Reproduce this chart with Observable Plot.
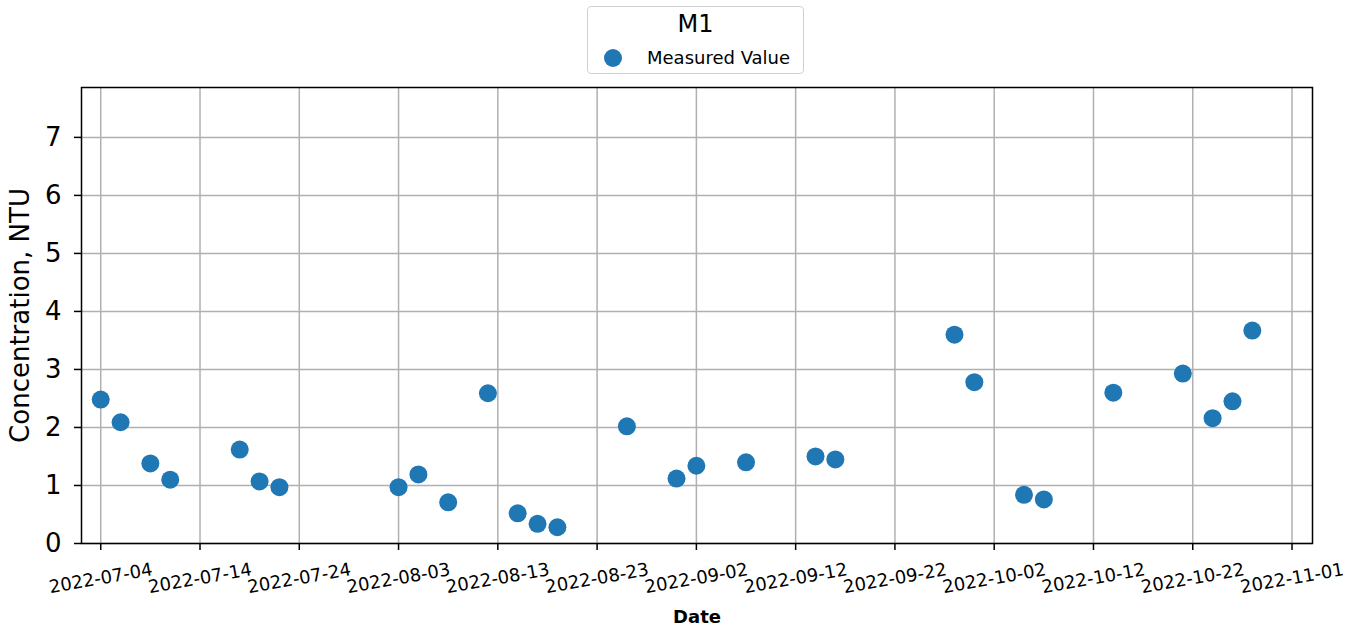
<!DOCTYPE html>
<html>
<head>
<meta charset="utf-8">
<script src="https://cdn.jsdelivr.net/npm/d3@7"></script>
<script src="https://cdn.jsdelivr.net/npm/@observablehq/plot@0.6"></script>
<style>
  body { margin: 0; background: white; font-family: "DejaVu Sans", sans-serif; }
  #wrap { position: relative; width: 1364px; height: 631px; }
  #legend {
    position: absolute; left: 587px; top: 6px; width: 217px; height: 68px;
    border: 1.5px solid #d0d0d0; border-radius: 4px; background: white; box-sizing: border-box;
    font-family: "DejaVu Sans", sans-serif; color: black;
  }
  #legend .title { position: absolute; left: 0; right: 0; top: 3px; text-align: center; font-size: 24px; }
  #legend .dot { position: absolute; left: 16px; top: 42px; width: 18px; height: 18px; border-radius: 50%; background: #1f77b4; }
  #legend .lab { position: absolute; left: 59px; top: 40px; font-size: 18px; }
</style>
</head>
<body>
<div id="wrap">
  <div id="chart"></div>
  <div id="legend"><div class="title">M1</div><div class="dot"></div><div class="lab">Measured Value</div></div>
</div>
<script>
const dates = ["2022-07-04","2022-07-06","2022-07-09","2022-07-11","2022-07-18","2022-07-20","2022-07-22",
  "2022-08-03","2022-08-05","2022-08-08","2022-08-12","2022-08-15","2022-08-17","2022-08-19",
  "2022-08-26","2022-08-31","2022-09-02","2022-09-07","2022-09-14","2022-09-16",
  "2022-09-28","2022-09-30","2022-10-05","2022-10-07","2022-10-14","2022-10-21","2022-10-24","2022-10-26","2022-10-28"];
const values = [2.48,2.09,1.38,1.10,1.62,1.07,0.97,
  0.97,1.19,0.71,2.59,0.52,0.34,0.28,
  2.02,1.12,1.34,1.40,1.50,1.45,
  3.60,2.78,0.84,0.76,2.60,2.93,2.16,2.45,3.67];
const xTickLabels = ["2022-07-04","2022-07-14","2022-07-24","2022-08-03","2022-08-13","2022-08-23",
  "2022-09-02","2022-09-12","2022-09-22","2022-10-02","2022-10-12","2022-10-22","2022-11-01"];
const yTicks = [0,1,2,3,4,5,6,7];

const data = dates.map((d, i) => ({date: new Date(d + "T00:00:00Z"), value: values[i]}));
const xTicks = xTickLabels.map(s => new Date(s + "T00:00:00Z"));

const chart = Plot.plot({
  width: 1364,
  height: 631,
  marginLeft: 81,
  marginRight: 52,
  marginTop: 87,
  marginBottom: 88,
  style: {fontFamily: "DejaVu Sans", background: "white", color: "black"},
  x: {type: "utc", domain: [new Date("2022-07-02T01:30:00Z"), new Date("2022-11-03T01:30:00Z")]},
  y: {domain: [0, 7.86]},
  marks: [
    Plot.gridX(xTicks, {x: d => d, stroke: "#b0b0b0", strokeOpacity: 1, strokeWidth: 1.5}),
    Plot.gridY(yTicks, {y: d => d, stroke: "#b0b0b0", strokeOpacity: 1, strokeWidth: 1.5}),
    Plot.axisX({ticks: xTicks, tickSize: 7, tickFormat: () => "", label: null, strokeWidth: 1.5}),
    Plot.axisY({ticks: yTicks, tickSize: 7, tickPadding: 13, fontSize: 26, label: null, strokeWidth: 1.5}),
    Plot.text(xTicks, {x: d => d, frameAnchor: "bottom", dy: 35, text: (d, i) => xTickLabels[i],
      rotate: -10, fontSize: 18, textAnchor: "middle", lineAnchor: "middle", fill: "black"}),
    Plot.text(["Concentration, NTU"], {frameAnchor: "left", dx: -61, rotate: -90, fontSize: 26,
      textAnchor: "middle", lineAnchor: "middle", fill: "black"}),
    Plot.text(["Date"], {frameAnchor: "bottom", dy: 74, fontSize: 18, fontWeight: "bold",
      textAnchor: "middle", lineAnchor: "middle", fill: "black"}),
    Plot.dot(data, {x: "date", y: "value", r: 9, fill: "#1f77b4", stroke: "none"}),
    Plot.frame({stroke: "black", strokeWidth: 1.5})
  ]
});
document.getElementById("chart").appendChild(chart);
</script>
</body>
</html>
